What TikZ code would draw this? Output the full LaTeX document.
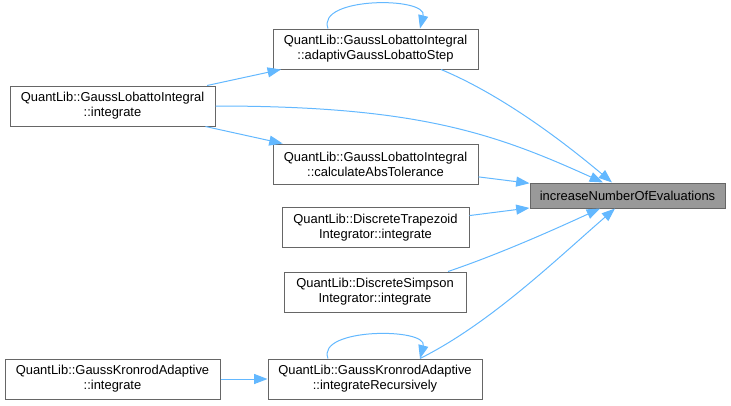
\documentclass[tikz,border=0pt]{standalone}
\usepackage{fontspec}
\setmainfont{Liberation Sans}
\usetikzlibrary{arrows.meta,calc}
\definecolor{callblue}{HTML}{63B8FF}
\definecolor{fnline}{HTML}{666666}
\definecolor{rootgray}{HTML}{999999}

\begin{document}
\begin{tikzpicture}[x=0.75pt,y=-0.75pt]
	\tikzset{fn/.style={draw=fnline,line width=0.75pt,fill=white,align=center,inner sep=0pt,
			minimum height=30pt,font=\fontsize{9.7}{11.25}\selectfont},
		call/.style={color=callblue,line width=0.75pt,-{Triangle[length=10pt,width=7.5pt]}}}
	\useasboundingbox (0,0) rectangle (731,405);

	\node[fn,minimum width=153.75pt] (glstep) at (375.5,49) {QuantLib::GaussLobattoIntegral\\::adaptivGaussLobattoStep};
	\node[fn,minimum width=153.75pt] (glint) at (112.5,106) {QuantLib::GaussLobattoIntegral\\::integrate};
	\node[fn,minimum width=153.75pt] (gltol) at (375.5,164) {QuantLib::GaussLobattoIntegral\\::calculateAbsTolerance};
	\node[fn,fill=rootgray,minimum width=146.25pt,minimum height=18.75pt] (incr) at (627.5,195.5) {increaseNumberOfEvaluations};
	\node[fn,minimum width=140.25pt] (trapez) at (375.5,227.5) {QuantLib::DiscreteTrapezoid\\Integrator::integrate};
	\node[fn,minimum width=136.5pt] (simpson) at (375,292) {QuantLib::DiscreteSimpson\\Integrator::integrate};
	\node[fn,minimum width=161.25pt] (gkint) at (112.5,379) {QuantLib::GaussKronrodAdaptive\\::integrate};
	\node[fn,minimum width=160.5pt] (gkrec) at (375,379) {QuantLib::GaussKronrodAdaptive\\::integrateRecursively};

	\path[call]
		(glint) edge (glstep)
		(glint) edge (gltol)
		(gltol) edge (incr)
		(trapez) edge (incr)
		(gkint) edge (gkrec);

	%% curved calls into increaseNumberOfEvaluations
	\draw[call] (glint.east) .. controls +(200,0) and +(-110,-50) .. ($(incr.north)+(-24.5,0)$);
	\draw[call] ($(glstep.south)+(65.5,0)$) .. controls +(60,25) and +(-50,-42) .. ($(incr.north)+(-15.5,0)$);
	\draw[call] ($(simpson.north)+(73,0)$) .. controls +(50,-17) and +(-50,23) .. ($(incr.south)+(-27.5,0)$);
	\draw[call] ($(gkrec.north)+(45,0)$) .. controls +(70,-35) and +(-60,52) .. ($(incr.south)+(-12.5,0)$);

	%% recursive calls
	\draw[call] ($(glstep.north)+(-47.5,0)$) .. controls +(-12,-32) and +(8,-32) .. ($(glstep.north)+(44.5,0)$);
	\draw[call] ($(gkrec.north)+(-47,0)$) .. controls +(-12,-31) and +(8,-31) .. ($(gkrec.north)+(45,0)$);
\end{tikzpicture}
\end{document}
